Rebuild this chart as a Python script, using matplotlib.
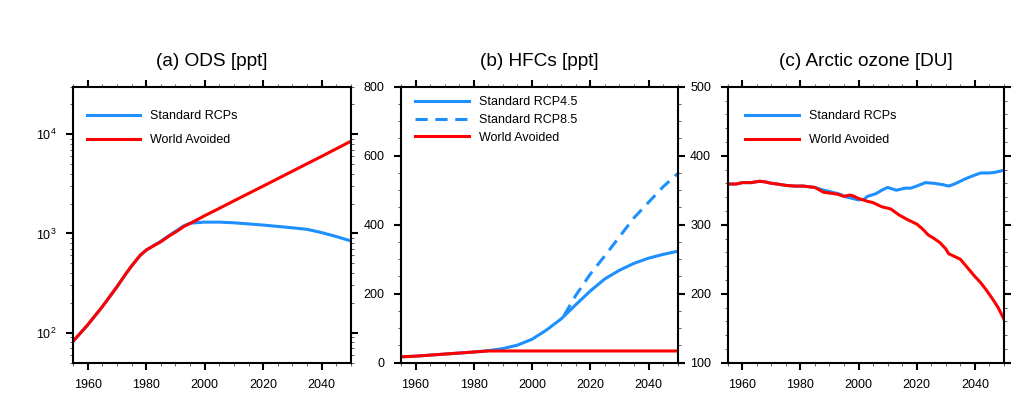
import numpy as np
import matplotlib
matplotlib.use('Agg')
import matplotlib.pyplot as plt
from matplotlib.ticker import MultipleLocator, LogLocator, NullFormatter

plt.rcParams['font.family'] = ['Liberation Sans', 'DejaVu Sans']
plt.rcParams['mathtext.fontset'] = 'custom'
plt.rcParams['mathtext.rm'] = 'Liberation Sans'
plt.rcParams['mathtext.it'] = 'Liberation Sans'

BLUE = '#1E8FFF'
RED = '#FF0000'

# (a) ODS [ppt]
years_a = [1955, 1960, 1965, 1970, 1973, 1975, 1978, 1980, 1983, 1985, 1988, 1990, 1993, 1995,
           2000, 2005, 2010, 2020, 2030, 2035, 2040, 2045, 2050]
ods_std = [82, 120, 183, 290, 390, 470, 605, 680, 770, 835, 960, 1050, 1200, 1270,
           1300, 1300, 1280, 1215, 1140, 1100, 1020, 930, 840]
ods_wa = [82, 120, 183, 290, 390, 470, 605, 680, 765, 825, 950, 1030, 1180, 1260,
          1510, 1790, 2130, 3000, 4240, 5040, 5980, 7130, 8500]

# (b) HFCs [ppt]
years_b = [1955, 1960, 1965, 1970, 1975, 1980, 1985, 1990, 1995, 2000, 2005, 2010,
           2015, 2020, 2025, 2030, 2035, 2040, 2045, 2050]
hfc_rcp45 = [17, 19, 22, 25, 28, 31, 35, 41, 51, 68, 95, 127,
             168, 208, 243, 268, 288, 303, 314, 323]
hfc_wa = [17, 19, 22, 25, 28, 31, 34, 34, 34, 34, 34, 34,
          34, 34, 34, 34, 34, 34, 34, 34]
years_b85 = [2011, 2015, 2020, 2025, 2030, 2035, 2040, 2045, 2050]
hfc_rcp85 = [137, 195, 257, 310, 365, 420, 465, 510, 548]

# (c) Arctic ozone [DU]
years_c = [1955, 1958, 1960, 1963, 1966, 1968, 1970, 1972, 1975, 1978, 1981, 1985,
           1988, 1990, 1993, 1996, 1998, 2000, 2002, 2003, 2006, 2008, 2010, 2013,
           2016, 2018, 2020, 2023, 2026, 2029, 2031, 2033, 2035, 2037, 2040, 2042,
           2045, 2047, 2050]
o3_std = [359, 359, 361, 361, 363, 362, 360, 359, 357, 356, 356, 354,
          350, 348, 345, 340, 338, 336, 337, 341, 345, 350, 354, 350,
          353, 353, 356, 361, 360, 358, 356, 359, 363, 367, 372, 375,
          375, 376, 379]
years_c_wa = [1955, 1958, 1960, 1963, 1966, 1968, 1970, 1972, 1975, 1978, 1981, 1985,
              1988, 1990, 1993, 1995, 1997, 1998, 2000, 2003, 2005, 2008, 2011, 2014,
              2017, 2020, 2022, 2024, 2026, 2028, 2030, 2031, 2033, 2035, 2037, 2040,
              2042, 2044, 2046, 2048, 2050]
o3_wa = [359, 359, 361, 361, 363, 362, 360, 359, 357, 356, 356, 354,
         347, 346, 344, 341, 343, 342, 338, 334, 332, 326, 323, 314,
         307, 301, 294, 285, 280, 274, 265, 258, 254, 250, 240, 225,
         216, 205, 193, 180, 163]

fig = plt.figure(figsize=(10.24, 4.11), dpi=100)
ax_a = fig.add_axes([0.0713, 0.1175, 0.2715, 0.6715])
ax_b = fig.add_axes([0.3916, 0.1175, 0.2702, 0.6715])
ax_c = fig.add_axes([0.7106, 0.1175, 0.2698, 0.6715])

lw = 2.2


def style(ax, title):
    for s in ax.spines.values():
        s.set_linewidth(1.5)
    ax.set_xlim(1955, 2050)
    ax.xaxis.set_major_locator(MultipleLocator(20))
    ax.xaxis.set_minor_locator(MultipleLocator(5))
    ax.tick_params(which='both', direction='out', top=True, right=True,
                   labelsize=9, pad=7)
    ax.tick_params(which='major', length=5, width=1.5)
    ax.tick_params(which='minor', length=2.5, width=0.6, color='#444444')
    ax.set_title(title, fontsize=13.7, pad=15)


# panel a
ax_a.plot(years_a, ods_std, color=BLUE, lw=lw, label='Standard RCPs')
ax_a.plot(years_a, ods_wa, color=RED, lw=lw, label='World Avoided')
ax_a.set_yscale('log')
ax_a.set_ylim(50, 30000)
ax_a.yaxis.set_major_locator(LogLocator(base=10, numticks=10))
ax_a.yaxis.set_minor_locator(LogLocator(base=10, subs=np.arange(2, 10), numticks=10))
ax_a.yaxis.set_minor_formatter(NullFormatter())
style(ax_a, '(a) ODS [ppt]')
ax_a.legend(loc='upper left', bbox_to_anchor=(0.049, 0.915), frameon=False,
            fontsize=9, handlelength=4.3, handletextpad=0.8, labelspacing=0.95,
            borderpad=0, borderaxespad=0)

# panel b
ax_b.plot(years_b, hfc_rcp45, color=BLUE, lw=lw, label='Standard RCP4.5')
ax_b.plot(years_b85, hfc_rcp85, color=BLUE, lw=lw, dashes=(4, 2.5), label='Standard RCP8.5')
ax_b.plot(years_b, hfc_wa, color=RED, lw=lw, label='World Avoided')
ax_b.set_ylim(0, 800)
ax_b.yaxis.set_major_locator(MultipleLocator(200))
ax_b.yaxis.set_minor_locator(MultipleLocator(50))
style(ax_b, '(b) HFCs [ppt]')
ax_b.legend(loc='upper left', bbox_to_anchor=(0.05, 0.965), frameon=False,
            fontsize=9, handlelength=4.3, handletextpad=0.8, labelspacing=0.45,
            borderpad=0, borderaxespad=0)

# panel c
ax_c.plot(years_c, o3_std, color=BLUE, lw=lw, label='Standard RCPs')
ax_c.plot(years_c_wa, o3_wa, color=RED, lw=lw, label='World Avoided')
ax_c.set_ylim(100, 500)
ax_c.yaxis.set_major_locator(MultipleLocator(100))
ax_c.yaxis.set_minor_locator(MultipleLocator(20))
style(ax_c, '(c) Arctic ozone [DU]')
ax_c.legend(loc='upper left', bbox_to_anchor=(0.063, 0.915), frameon=False,
            fontsize=9, handlelength=4.3, handletextpad=0.8, labelspacing=0.95,
            borderpad=0, borderaxespad=0)

fig.savefig('out.png', dpi=100)
